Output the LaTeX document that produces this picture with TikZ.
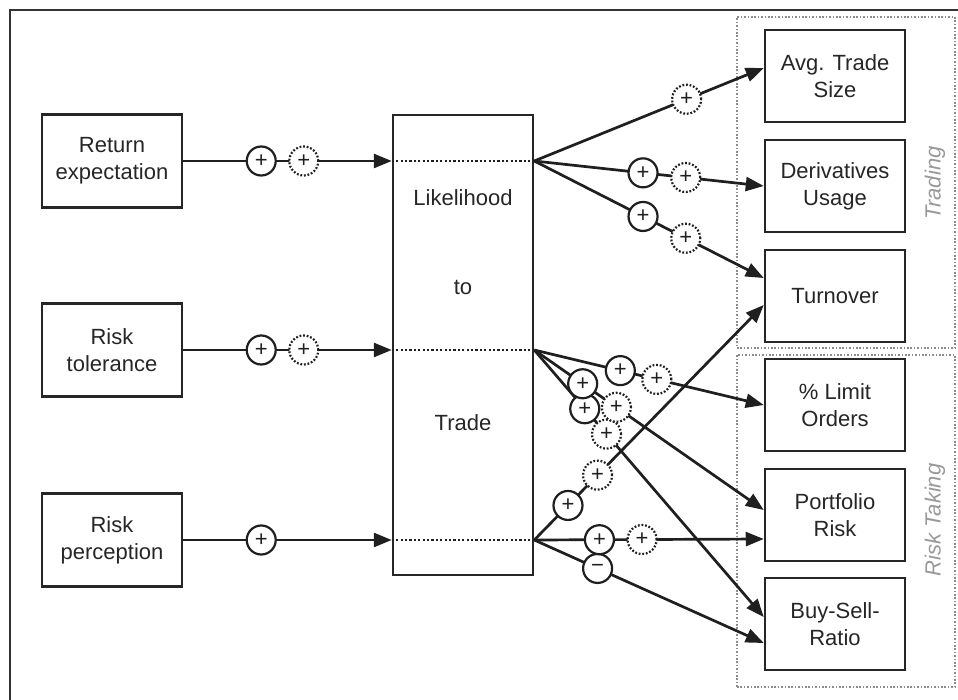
\documentclass[tikz,border=0pt]{standalone}
\usepackage{fontspec}
\setmainfont{Liberation Sans}
\usetikzlibrary{arrows.meta,calc}
\begin{document}
\begin{tikzpicture}[x=1pt,y=-1pt,
  box/.style={draw=black!85, line width=2.5pt, minimum width=140pt, minimum height=92pt, align=center, inner sep=0pt, font=\fontsize{22}{27}\selectfont, text=black!85},
  bigbox/.style={draw=black!85, line width=2.5pt, minimum width=140pt, minimum height=460pt, inner sep=0pt},
  lbl/.style={font=\fontsize{22}{27}\selectfont, text=black!85},
  conn/.style={draw=black!88, line width=2.7pt, -{Triangle[length=18pt,width=14pt]}},
  pl/.style={circle, draw=black!88, fill=white, line width=2.2pt, minimum size=29pt, inner sep=0pt, font=\fontsize{22}{22}\selectfont, text=black!88},
  dpl/.style={pl, dash pattern=on 1.8pt off 1.8pt},
  sep/.style={draw=black!88, line width=2.5pt, dash pattern=on 2.2pt off 2.2pt},
  grp/.style={draw=black!45, line width=2pt, dash pattern=on 1.6pt off 1.8pt, inner sep=0pt, outer sep=0pt},
  grplabel/.style={text=black!40, font=\fontsize{22}{26}\selectfont\itshape, rotate=90}
]
\useasboundingbox (0,0) rectangle (958,700);
\fill[white] (0,0) rectangle (958,700);
\draw[line width=1.8pt, black!80] (10,700) -- (10,10) -- (958,10);

% groups
\node[grp, minimum width=218pt, minimum height=331pt] (trading) at (846,182.5) {};
\node[grp, minimum width=218pt, minimum height=332pt] (risktaking) at (846,521) {};
\node[grplabel] (tradinglbl) at (935,183) {Trading};
\node[grplabel] (risklbl) at (935,520) {Risk Taking};

% inputs
\node[box, minimum height=93pt] (ret) at (112,161) {Return\\expectation};
\node[box, minimum height=93pt] (tol) at (112,350) {Risk\\tolerance};
\node[box, minimum height=93pt] (per) at (112,540) {Risk\\perception};

% central box
\node[bigbox] (ltt) at (463,345) {};
\node[lbl] (t1) at (463,198) {Likelihood};
\node[lbl] (t2) at (463,287) {to};
\node[lbl] (t3) at (463,423) {Trade};

% outputs
\node[box] (ats) at (835,76) {Avg. Trade\\Size};
\node[box] (du) at (835,186) {Derivatives\\Usage};
\node[box] (to) at (835,296) {Turnover};
\node[box] (lo) at (835,405) {\% Limit\\Orders};
\node[box] (pr) at (835,515) {Portfolio\\Risk};
\node[box] (bsr) at (835,624) {Buy-Sell-\\Ratio};

% input connectors
\coordinate (in1) at (ret -| ltt.west);
\coordinate (in2) at (tol -| ltt.west);
\coordinate (in3) at (per -| ltt.west);
\coordinate (l1) at (ret -| ltt.east);
\coordinate (l2) at (tol -| ltt.east);
\coordinate (l3) at (per -| ltt.east);

\draw[sep] (in1) -- (l1);
\draw[sep] (in2) -- (l2);
\draw[sep] (in3) -- (l3);

\draw[conn] (ret) -- (in1) node[pl,pos=0.374]{+} node[dpl,pos=0.578]{+};
\draw[conn] (tol) -- (in2) node[pl,pos=0.374]{+} node[dpl,pos=0.578]{+};
\draw[conn] (per) -- (in3) node[pl,pos=0.374]{+};

% fan-out from row 1
\draw[conn] (l1) -- ([yshift=8pt]ats.west) node[dpl,pos=0.664]{+};
\draw[conn] (l1) -- (du.west) node[pl,pos=0.474]{+} node[dpl,pos=0.66]{+};
\draw[conn] (l1) -- ([yshift=18pt]to.west) node[pl,pos=0.474]{+} node[dpl,pos=0.66]{+};

% fan-out from row 3 (under)
\draw[conn] (l3) -- ([yshift=-19pt]bsr.west) node[pl,pos=0.276]{−};
\draw[conn] (l3) -- ([yshift=-24pt]pr.west) node[pl,pos=0.284]{+} node[dpl,pos=0.47]{+};

% fan-out from row 2
\draw[conn] (l2) -- ([yshift=7pt]bsr.west) node[pl,pos=0.22]{+} node[dpl,pos=0.315]{+};
\draw[conn] (l2) -- ([yshift=5pt]pr.west) node[pl,pos=0.211]{+} node[dpl,pos=0.358]{+};
\draw[conn] (l2) -- (lo.west) node[pl,pos=0.375]{+} node[dpl,pos=0.534]{+};

% row 3 up to turnover
\draw[conn] (l3) -- ([yshift=-9pt]to.west) node[pl,pos=0.147]{+} node[dpl,pos=0.276]{+};
\end{tikzpicture}
\end{document}
